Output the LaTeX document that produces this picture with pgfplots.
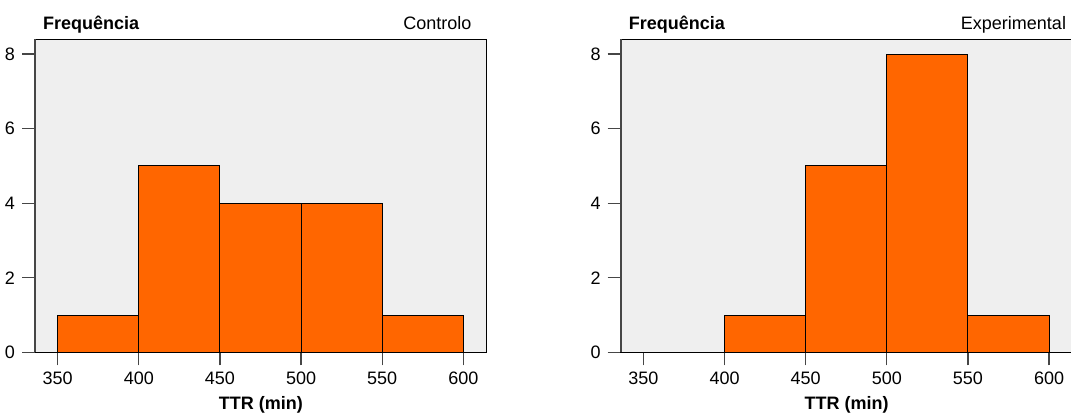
\documentclass[border=0pt]{standalone}
\usepackage{fontspec}
\setmainfont{Liberation Sans}
\usepackage{pgfplots}
\pgfplotsset{compat=1.18}
\definecolor{bg}{RGB}{239,239,239}
\definecolor{barc}{RGB}{255,102,0}
\definecolor{axg}{RGB}{70,70,70}
\pgfplotsset{
  hist/.style={
    scale only axis, width=225.85pt, height=156.4pt,
    xmin=336, xmax=614.4, ymin=0, ymax=8.39,
    xtick={350,400,...,600}, ytick={0,2,...,8},
    tick align=outside, major tick length=6.5pt,
    xtick pos=bottom, ytick pos=left,
    tick style={color=axg, line width=0.6pt},
    axis background/.style={fill=bg},
    axis line style={black, line width=0.5pt},
    tick label style={font=\fontsize{9}{10}\selectfont},
    /pgf/number format/assume math mode=true,
    xlabel={\bfseries TTR (min)},
    label style={font=\fontsize{9}{10}\selectfont},
    xlabel style={at={(axis description cs:0.5,0)}, anchor=base, yshift=-28.85pt},
    clip=false,
  },
  bars/.style={ybar interval, fill=barc, draw=black, line width=0.5pt},
}
\begin{document}
\begin{tikzpicture}
\useasboundingbox (0,0) rectangle (535.5pt,208.5pt);
\begin{axis}[hist, at={(17.5pt,32.35pt)}, anchor=south west]
\addplot[bars] coordinates {(350,1) (400,5) (450,4) (500,4) (550,1) (600,1)};
\draw[axg, line width=0.9pt] (rel axis cs:0,0) -- (rel axis cs:0,1);
\node[anchor=base west, font=\fontsize{9}{10}\selectfont\bfseries, inner sep=0pt] at (rel axis cs:0,1) [xshift=3.85pt, yshift=4.75pt] {Frequência};
\node[anchor=base east, font=\fontsize{9}{10}\selectfont, inner sep=0pt] at (rel axis cs:1,1) [xshift=-7.5pt, yshift=4.75pt] {Controlo};
\end{axis}
\begin{axis}[hist, at={(310.35pt,32.35pt)}, anchor=south west]
\addplot[bars] coordinates {(400,1) (450,5) (500,8) (550,1) (600,1)};
\draw[axg, line width=0.9pt] (rel axis cs:0,0) -- (rel axis cs:0,1);
\node[anchor=base west, font=\fontsize{9}{10}\selectfont\bfseries, inner sep=0pt] at (rel axis cs:0,1) [xshift=3.85pt, yshift=4.75pt] {Frequência};
\node[anchor=base east, font=\fontsize{9}{10}\selectfont, inner sep=0pt] at (rel axis cs:1,1) [xshift=-3pt, yshift=4.75pt] {Experimental};
\end{axis}
\end{tikzpicture}
\end{document}
